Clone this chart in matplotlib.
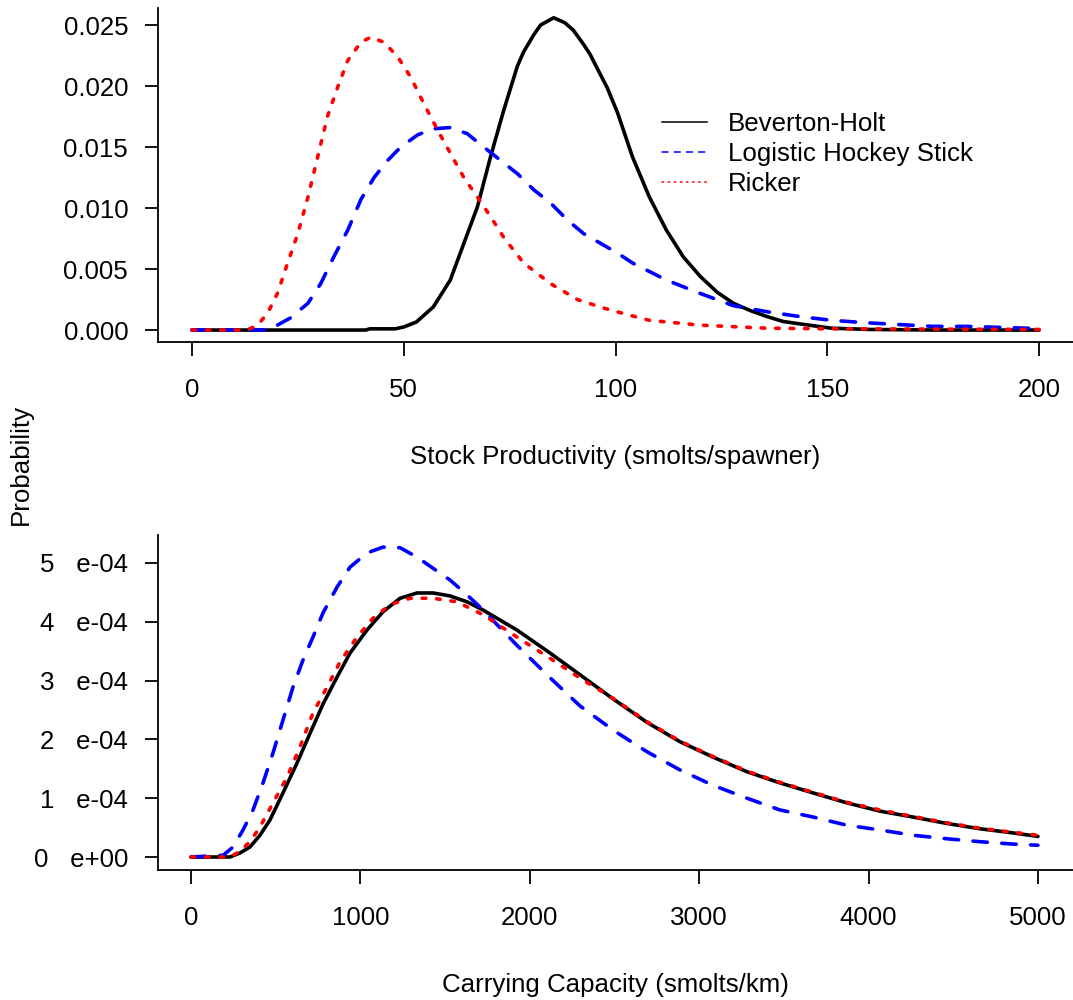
import matplotlib
matplotlib.use("Agg")
import matplotlib.pyplot as plt
from matplotlib.lines import Line2D

plt.rcParams['font.family'] = ['Liberation Sans', 'DejaVu Sans']

# --- top panel: stock productivity (smolts/spawner) ---
bh_prod_x = [0, 20, 41, 42, 48, 50, 53, 57, 61, 64.2, 67.4, 70.5, 73.6, 76.8, 78.3,
             80.7, 82.3, 85.4, 88, 90, 92.5, 94, 96.5, 98, 100.5, 104, 108, 112, 116,
             120, 124, 127.8, 131.8, 135.8, 139.6, 143.6, 151, 160, 175, 200]
bh_prod_y = [0, 0, 0, 0.0001, 0.0001, 0.00025, 0.00066, 0.0019, 0.0041, 0.0071, 0.0101,
             0.0142, 0.018, 0.0216, 0.0228, 0.0242, 0.025, 0.0256, 0.0252, 0.0246,
             0.0234, 0.0226, 0.0209, 0.0199, 0.0178, 0.0142, 0.0109, 0.0082, 0.006,
             0.0044, 0.0031, 0.0022, 0.0016, 0.0011, 0.0007, 0.0005, 0.00015, 0.00005,
             0, 0]

lhs_prod_x = [0, 17, 19.4, 23.3, 27.4, 30.4, 33.5, 36.8, 39.9, 43, 46.2, 49.3, 53.3,
              57, 61, 65, 68.9, 72.9, 76.9, 80.7, 84.7, 88.7, 92.5, 96.5, 100.5, 104,
              108, 112, 120, 127.8, 135.8, 143.6, 151, 159, 175, 183, 200]
lhs_prod_y = [0, 0, 0.00025, 0.001, 0.0022, 0.0038, 0.006, 0.0082, 0.0107, 0.0125,
              0.0139, 0.015, 0.016, 0.0165, 0.0166, 0.0161, 0.015, 0.0139, 0.0128,
              0.0115, 0.0104, 0.009, 0.0079, 0.0071, 0.0063, 0.0055, 0.0048, 0.0041,
              0.003, 0.002, 0.0015, 0.0011, 0.0008, 0.0006, 0.0003, 0.0003, 0.00012]

ricker_prod_x = [0, 13, 15.5, 17.9, 20.2, 22.6, 25, 27.4, 29.7, 32, 34.4, 36.8, 39.9,
                 42.2, 45.3, 48.6, 51.7, 54.7, 58, 61, 64.2, 67.4, 70.5, 73.6, 78.3,
                 84.7, 91, 97.2, 103.5, 108, 120, 135.8, 151, 200]
ricker_prod_y = [0, 0, 0.0004, 0.0014, 0.003, 0.0055, 0.0079, 0.0109, 0.0142, 0.0175,
                 0.0199, 0.0221, 0.0236, 0.024, 0.0236, 0.0224, 0.0207, 0.0186, 0.0164,
                 0.0145, 0.0125, 0.0109, 0.0093, 0.0076, 0.0055, 0.0038, 0.0025, 0.0018,
                 0.0012, 0.0008, 0.0004, 0.00015, 0.0001, 0.00005]

# --- bottom panel: carrying capacity (smolts/km) ---
bh_cap_x = [0, 230, 290, 348, 407, 466, 543, 626, 702, 779, 862, 939, 1039, 1133, 1234,
            1334, 1429, 1529, 1629, 1724, 1924, 2119, 2296, 2491, 2692, 2887, 3081,
            3282, 3477, 3672, 3873, 4067, 4262, 4463, 4658, 4852, 5000]
bh_cap_y = [0, 0, 0.07e-4, 0.17e-4, 0.37e-4, 0.63e-4, 1.09e-4, 1.6e-4, 2.1e-4, 2.6e-4,
            3.06e-4, 3.47e-4, 3.86e-4, 4.17e-4, 4.4e-4, 4.49e-4, 4.49e-4, 4.44e-4,
            4.34e-4, 4.2e-4, 3.86e-4, 3.47e-4, 3.1e-4, 2.69e-4, 2.29e-4, 1.96e-4,
            1.7e-4, 1.45e-4, 1.26e-4, 1.09e-4, 0.92e-4, 0.78e-4, 0.68e-4, 0.57e-4,
            0.48e-4, 0.41e-4, 0.35e-4]

lhs_cap_x = [0, 190, 248, 307, 366, 425, 484, 543, 602, 661, 720, 779, 862, 939, 1039,
             1133, 1234, 1334, 1429, 1529, 1629, 1724, 1924, 2119, 2296, 2491, 2692,
             2887, 3081, 3282, 3477, 3672, 3873, 4067, 4262, 4463, 4658, 4852, 5000]
lhs_cap_y = [0, 0.03e-4, 0.17e-4, 0.46e-4, 0.8e-4, 1.26e-4, 1.77e-4, 2.33e-4, 2.89e-4,
             3.35e-4, 3.74e-4, 4.15e-4, 4.59e-4, 4.93e-4, 5.17e-4, 5.27e-4, 5.26e-4,
             5.1e-4, 4.91e-4, 4.71e-4, 4.46e-4, 4.2e-4, 3.6e-4, 3.05e-4, 2.57e-4,
             2.16e-4, 1.79e-4, 1.48e-4, 1.22e-4, 1.0e-4, 0.8e-4, 0.68e-4, 0.54e-4,
             0.46e-4, 0.37e-4, 0.31e-4, 0.26e-4, 0.22e-4, 0.2e-4]

ricker_cap_x = [0, 230, 290, 348, 407, 484, 567, 643, 720, 803, 880, 980, 1074, 1175,
                1293, 1429, 1570, 1724, 1924, 2119, 2314, 2491, 2692, 2887, 3081, 3282,
                3477, 3672, 3873, 4067, 4262, 4463, 4658, 4852, 5000]
ricker_cap_y = [0, 0, 0.1e-4, 0.26e-4, 0.51e-4, 0.92e-4, 1.36e-4, 1.87e-4, 2.45e-4,
                2.89e-4, 3.32e-4, 3.74e-4, 4.06e-4, 4.29e-4, 4.4e-4, 4.4e-4, 4.34e-4,
                4.12e-4, 3.74e-4, 3.38e-4, 3.01e-4, 2.7e-4, 2.3e-4, 1.97e-4, 1.71e-4,
                1.46e-4, 1.27e-4, 1.1e-4, 0.93e-4, 0.8e-4, 0.69e-4, 0.58e-4, 0.49e-4,
                0.42e-4, 0.37e-4]

series_names = ["Beverton-Holt", "Logistic Hockey Stick", "Ricker"]
series_colors = ["black", "blue", "red"]

prod_ticks = [0, 50, 100, 150, 200]
prod_yticks = [0, 0.005, 0.010, 0.015, 0.020, 0.025]
prod_ylabels = ["0.000", "0.005", "0.010", "0.015", "0.020", "0.025"]
cap_ticks = [0, 1000, 2000, 3000, 4000, 5000]
cap_yticks = [0, 1e-4, 2e-4, 3e-4, 4e-4, 5e-4]
cap_ylabels = ["0   e+00", "1   e-04", "2   e-04", "3   e-04", "4   e-04", "5   e-04"]

FS = 18.6
LW = 2.6
# R style line types: solid, lty=2 "44", lty=3 "13"
dash_styles = [None, (0, (4, 4)), (0, (1, 3))]


def draw_series(ax, xs, ys):
    for (x, y), color, ls in zip(zip(xs, ys), series_colors, dash_styles):
        if ls is None:
            ax.plot(x, y, color=color, lw=LW, solid_capstyle='round',
                    solid_joinstyle='round')
        else:
            ax.plot(x, y, color=color, lw=LW, linestyle=ls, dash_capstyle='round')


def style_axes(ax, xticks, yticks, ylabels, xlim, ylim, xlabel):
    ax.set_xlim(*xlim)
    ax.set_ylim(*ylim)
    ax.set_xticks(xticks)
    ax.set_xticklabels([str(t) for t in xticks])
    ax.set_yticks(yticks)
    ax.set_yticklabels(ylabels)
    ax.spines['top'].set_visible(False)
    ax.spines['right'].set_visible(False)
    ax.spines['left'].set_linewidth(1.3)
    ax.spines['bottom'].set_linewidth(1.3)
    ax.tick_params(axis='x', direction='out', length=10, width=1.3, pad=16, labelsize=FS)
    ax.tick_params(axis='y', direction='out', length=9.5, width=1.3, pad=12, labelsize=FS)
    ax.set_xlabel(xlabel, fontsize=FS, labelpad=31)


fig = plt.figure(figsize=(10.73, 10), dpi=100)

ax1 = fig.add_axes([158 / 1073, 0.658, 1 - 158 / 1073, 0.334])
draw_series(ax1, [bh_prod_x, lhs_prod_x, ricker_prod_x],
            [bh_prod_y, lhs_prod_y, ricker_prod_y])
style_axes(ax1, prod_ticks, prod_yticks, prod_ylabels, (-8, 208), (-0.00098, 0.0264),
           "Stock Productivity (smolts/spawner)")

# legend uses thinner lines, like the R legend
handles = [Line2D([], [], color=c, lw=1.1, linestyle=(ls if ls else '-'),
                  dash_capstyle='round') for c, ls in zip(series_colors, dash_styles)]
fig.legend(handles, series_names, loc='upper left', bbox_to_anchor=(662 / 1073, 0.888),
           frameon=False, fontsize=FS, handlelength=1.75, handletextpad=0.8,
           labelspacing=0.24, borderpad=0, borderaxespad=0)

ax2 = fig.add_axes([158 / 1073, 0.13, 1 - 158 / 1073, 0.335])
draw_series(ax2, [bh_cap_x, lhs_cap_x, ricker_cap_x],
            [bh_cap_y, lhs_cap_y, ricker_cap_y])
style_axes(ax2, cap_ticks, cap_yticks, cap_ylabels, (-195, 5207), (-0.221e-4, 5.476e-4),
           "Carrying Capacity (smolts/km)")

fig.text(0.019, 0.536, "Probability", rotation=90, fontsize=FS, ha='center', va='center')

fig.savefig("out.png", dpi=100)
